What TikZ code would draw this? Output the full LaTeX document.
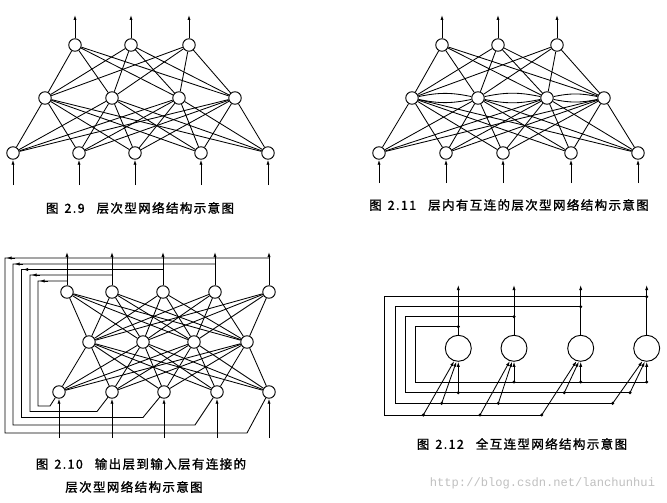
\documentclass[tikz,border=0pt]{standalone}
\usepackage{fontspec}
\usetikzlibrary{arrows.meta}
\newfontfamily\cjk{Noto Sans CJK SC}[LetterSpace=11,FakeBold=1.3]
\newfontfamily\wm{Liberation Mono}
\tikzset{
  neuron/.style={circle,draw,line width=0.95pt,inner sep=0pt,minimum size=12.5pt},
  bigneuron/.style={circle,draw,line width=0.95pt,inner sep=0pt,minimum size=26pt},
  link/.style={line width=0.85pt},
  arr/.style={line width=0.85pt,-{Latex[length=5pt,width=3.2pt]}},
  dot/.style={circle,fill,inner sep=0pt,minimum size=3.4pt},
  captxt/.style={font=\cjk\fontsize{12.5}{14}\selectfont,inner sep=0pt,anchor=center},
}
\begin{document}
\begin{tikzpicture}[x=1pt,y=-1pt]
\useasboundingbox (0,0) rectangle (667,503);
% ---------------- Fig 2.9 ----------------
\foreach \n/\x in {1/75,2/131,3/189}{
  \node[neuron] (a-o\n) at (\x,45) {};
  \coordinate (a-t\n) at (\x,15);
  \draw[arr] (a-o\n) -- (a-t\n);}
\foreach \n/\x in {1/45,2/112,3/179,4/235} \node[neuron] (a-h\n) at (\x,98) {};
\foreach \n/\x in {1/13,2/79,3/135,4/201,5/268}{
  \node[neuron] (a-i\n) at (\x,153) {};
  \coordinate (a-b\n) at (\x,185);
  \draw[arr] (a-b\n) -- (a-i\n);}
\foreach \i in {1,2,3} \foreach \j in {1,...,4} \draw[link] (a-o\i) -- (a-h\j);
\foreach \i in {1,...,4} \foreach \j in {1,...,5} \draw[link] (a-h\i) -- (a-i\j);
\node[captxt] (capa) at (140,208) {图\hspace{6pt}2.9\hspace{12pt}层次型网络结构示意图};
% ---------------- Fig 2.11 ----------------
\foreach \n/\x in {1/442,2/498,3/557}{
  \node[neuron] (b-o\n) at (\x,45) {};
  \coordinate (b-t\n) at (\x,15);
  \draw[arr] (b-o\n) -- (b-t\n);}
\foreach \n/\x in {1/412,2/478,3/547,4/604} \node[neuron] (b-h\n) at (\x,98) {};
\foreach \n/\x in {1/379,2/446,3/503,4/571,5/638}{
  \node[neuron] (b-i\n) at (\x,153) {};
  \coordinate (b-b\n) at (\x,183);
  \draw[arr] (b-b\n) -- (b-i\n);}
\foreach \i in {1,2,3} \foreach \j in {1,...,4} \draw[link] (b-o\i) -- (b-h\j);
\foreach \i in {1,...,4} \foreach \j in {1,...,5} \draw[link] (b-h\i) -- (b-i\j);
\foreach \i/\j in {1/2,2/3,3/4}{
  \draw[link] (b-h\i) to[bend left=12] (b-h\j);
  \draw[link] (b-h\i) to[bend right=12] (b-h\j);}
\node[captxt] (capb) at (509,205) {图\hspace{6pt}2.11\hspace{12pt}层内有互连的层次型网络结构示意图};
% ---------------- Fig 2.10 ----------------
\foreach \n/\x in {1/67,2/112,3/163,4/215,5/269}{
  \node[neuron] (c-o\n) at (\x,292) {};
  \coordinate (c-t\n) at (\x,252);
  \draw[arr] (c-o\n) -- (c-t\n);}
\foreach \n/\x in {1/89,2/143,3/194,4/247} \node[neuron] (c-h\n) at (\x,342) {};
\foreach \n/\x in {1/59,2/112,3/164,4/217,5/269}{
  \node[neuron] (c-i\n) at (\x,392) {};
  \coordinate (c-b\n) at (\x,438);
  \draw[arr] (c-b\n) -- (c-i\n);}
\foreach \i in {1,...,5} \foreach \j in {1,...,4} \draw[link] (c-o\i) -- (c-h\j);
\foreach \i in {1,...,4} \foreach \j in {1,...,5} \draw[link] (c-h\i) -- (c-i\j);
\foreach \n/\x/\yt/\xl/\yb/\xr in {1/67/281/38/406/50, 2/112/275/30/411.5/97, 3/163/269.5/21.5/417.5/143, 4/215/264/13/425/195, 5/269/258/5/433/247}{
  \coordinate (c-j\n) at (\x,\yt);
  \coordinate (c-l\n) at (\xl,\yt);
  \coordinate (c-m\n) at (\xl,\yb);
  \coordinate (c-r\n) at (\xr,\yb);
  \coordinate (c-as\n) at (\xl+10,\yt);
  \coordinate (c-ae\n) at (\xl+1.5,\yt);
  \draw[link] (c-j\n) -- (c-l\n) -- (c-m\n) -- (c-r\n) -- (c-i\n);
  \draw[arr] (c-as\n) -- (c-ae\n);}
\node[captxt] (capc1) at (141,464) {图\hspace{6pt}2.10\hspace{12pt}输出层到输入层有连接的};
\node[captxt] (capc2) at (134,487) {层次型网络结构示意图};
% ---------------- Fig 2.12 ----------------
\foreach \n/\x in {1/458.3,2/514,3/580.7,4/646.7}{
  \node[bigneuron] (d-n\n) at (\x,348.3) {};
  \coordinate (d-t\n) at (\x,285);
  \draw[arr] (d-n\n) -- (d-t\n);}
\foreach \n/\x/\yt/\xl/\yb/\xr in {1/458.3/326.7/415.7/382/646.7, 2/514/316.7/405.7/392.7/630, 3/580.7/306.7/395/403.3/612.7, 4/646.7/296.7/384/415/541.7}{
  \node[dot] (d-j\n) at (\x,\yt) {};
  \coordinate (d-l\n) at (\xl,\yt);
  \coordinate (d-m\n) at (\xl,\yb);
  \coordinate (d-r\n) at (\xr,\yb);
  \draw[link] (d-j\n.center) -- (d-l\n) -- (d-m\n) -- (d-r\n);}
% taps: vertical
\foreach \k/\x/\y/\t in {1/514/382/2, 2/580.7/382/3, 3/646.7/382/4, 4/458.3/392.7/1}{
  \node[dot] (d-v\k) at (\x,\y) {};
  \draw[arr] (d-v\k.center) -- (d-n\t);}
% taps: diagonal
\foreach \k/\x/\y/\t/\a in {1/441.7/403.3/1/262, 2/423.3/415/1/252, 3/498.3/403.3/2/262, 4/480/415/2/252, 5/564.3/392.7/3/262, 6/541.7/415/3/252, 7/630/392.7/4/262, 8/612.7/403.3/4/252}{
  \node[dot] (d-g\k) at (\x,\y) {};
  \draw[arr] (d-g\k.center) -- (d-n\t.\a);}
\node[captxt] (capd) at (522,444) {图\hspace{6pt}2.12\hspace{12pt}全互连型网络结构示意图};
\node[font=\wm\fontsize{12.1}{14}\selectfont,text=black!25,inner sep=0pt] (wmk) at (542.5,483) {http://blog.csdn.net/lanchunhui};
\end{tikzpicture}
\end{document}
